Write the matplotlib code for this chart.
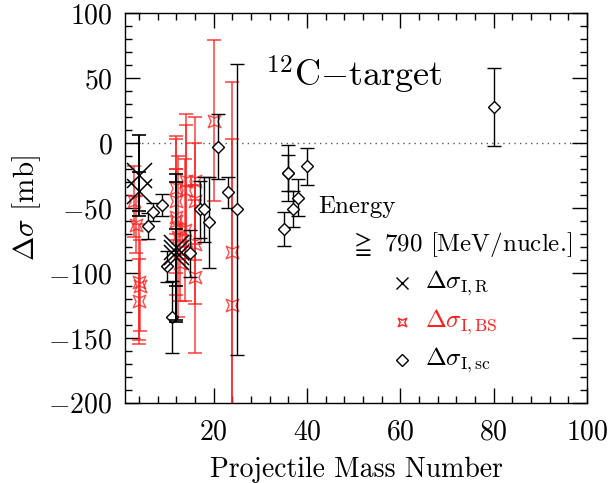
import numpy as np
import matplotlib
matplotlib.use('Agg')
import matplotlib.pyplot as plt
from matplotlib.path import Path
from matplotlib.ticker import MultipleLocator

plt.rcParams['font.family'] = 'serif'
plt.rcParams['font.serif'] = ['cmr10', 'DejaVu Serif']
plt.rcParams['mathtext.fontset'] = 'cm'
plt.rcParams['axes.formatter.use_mathtext'] = True

# delta sigma_I,R  (big crosses)
r_mass = [4, 4, 12, 12, 12]
r_val = [-25, -37, -80, -84, -88]
r_err = [31, 15, 56, 54, 22]

# delta sigma_I,BS  (red)
bs_mass = [3, 3.3, 4, 4.1, 4, 12, 12, 12, 12.3, 12, 12.8, 14, 14, 13.8, 16, 16, 16, 16, 20, 24, 24]
bs_val = [-45, -63, -107, -110, -122, -35, -57, -60, -72, -45, -92, -29, -36, -67, -29, -45, -78, -103, 17, -84, -125]
bs_err = [27, 22, 45, 35, 33, 40, 60, 40, 62, 25, 30, 51, 50, 55, 49, 45, 46, 59, 62, 131, 128]

# delta sigma_I,sc  (diamonds)
sc_mass = [6, 7, 9, 10, 11, 15, 17, 18, 19, 21, 23, 25, 35, 36, 36, 37, 38, 40, 80]
sc_val = [-64, -53, -48, -95, -134, -85, -51, -51, -61, -3, -38, -51, -66, -23, -23, -51, -42, -18, 28]
sc_err = [10, 7, 8.5, 12, 28, 18, 22, 25, 35, 25, 12, 112, 13, 21.5, 14, 14, 14, 14, 30]

fig = plt.figure(figsize=(6.16, 4.83), dpi=100)
ax = fig.add_axes([0.203, 0.166, 0.750, 0.807])

red = (1.0, 0.12, 0.12)
star = Path([(-1, -1), (0, -0.55), (1, -1), (0.55, 0), (1, 1), (0, 0.55),
             (-1, 1), (-0.55, 0), (-1, -1)],
            [Path.MOVETO] + [Path.LINETO] * 7 + [Path.CLOSEPOLY])

ax.axhline(0, color='0.35', ls=(0, (1, 3)), lw=1, zorder=1)

ax.errorbar(bs_mass, bs_val, yerr=bs_err, fmt='none', ecolor=red, alpha=0.8,
            elinewidth=1.2, capsize=5, capthick=1.2, zorder=2)
ax.plot(bs_mass, bs_val, ls='none', marker=star, ms=9, mfc='none', mec=red,
        mew=1.0, alpha=0.8, zorder=3)

ax.errorbar(sc_mass, sc_val, yerr=sc_err, fmt='none', ecolor='black',
            elinewidth=1, capsize=5, capthick=1, zorder=4)
ax.plot(sc_mass, sc_val, ls='none', marker='D', ms=6, mfc='white', mec='black',
        mew=1, zorder=5)

ax.errorbar(r_mass, r_val, yerr=r_err, fmt='none', ecolor='black',
            elinewidth=1.4, capsize=5, capthick=1.2, zorder=6)
ax.plot(r_mass, r_val, ls='none', marker='x', ms=18, mec='black', mew=1.1, zorder=7)

ax.set_xlim(1, 100)
ax.set_ylim(-200, 100)
ax.xaxis.set_major_locator(MultipleLocator(20))
ax.xaxis.set_minor_locator(MultipleLocator(4))
ax.yaxis.set_major_locator(MultipleLocator(50))
ax.yaxis.set_minor_locator(MultipleLocator(10))
ax.tick_params(which='both', direction='in', top=True, right=True, width=1)
ax.tick_params(which='major', length=11, labelsize=20)
ax.tick_params(axis='x', which='major', pad=12)
ax.tick_params(axis='y', which='major', pad=9)
ax.tick_params(which='minor', length=5)
for s in ax.spines.values():
    s.set_linewidth(1)

ax.set_xlabel('Projectile Mass Number', fontsize=20, labelpad=8)
ax.set_ylabel(r'$\Delta\sigma$ [mb]', fontsize=21, labelpad=4)

ax.text(0.303, 0.841, r'$^{12}$C$-$target', transform=ax.transAxes, fontsize=26,
        ha='left', va='center')
ax.text(0.418, 0.503, 'Energy', transform=ax.transAxes, fontsize=18, va='center')
ax.text(0.968, 0.405, r'$\geqq$ 790 [MeV/nucle.]', transform=ax.transAxes,
        fontsize=18, ha='right', va='center')

leg_y = [0.308, 0.208, 0.11]
ax.plot([0.60], [leg_y[0]], transform=ax.transAxes, marker='x', ms=8,
        mec='black', mew=1, ls='none', clip_on=False)
ax.plot([0.60], [leg_y[1]], transform=ax.transAxes, marker=star, ms=6,
        mfc='none', mec=red, mew=1, ls='none', clip_on=False)
ax.plot([0.60], [leg_y[2]], transform=ax.transAxes, marker='D', ms=6,
        mfc='white', mec='black', mew=1, ls='none', clip_on=False)
ax.text(0.649, leg_y[0], r'$\Delta\sigma_{\rm I,R}$', transform=ax.transAxes,
        fontsize=18, va='center')
ax.text(0.649, leg_y[1], r'$\Delta\sigma_{\rm I,BS}$', transform=ax.transAxes,
        fontsize=18, va='center', color=red)
ax.text(0.649, leg_y[2], r'$\Delta\sigma_{\rm I,sc}$', transform=ax.transAxes,
        fontsize=18, va='center')

fig.savefig('out.png', dpi=100)
